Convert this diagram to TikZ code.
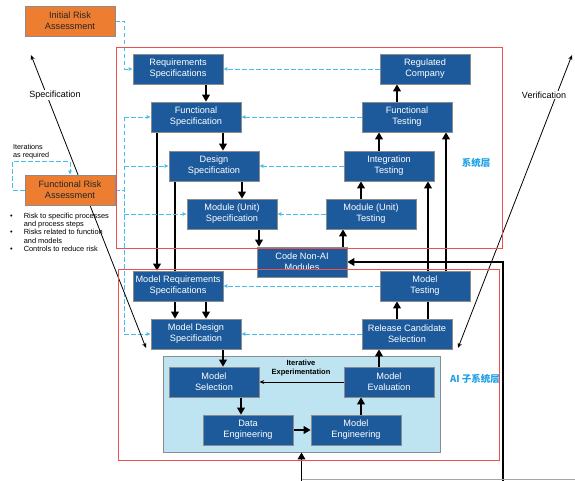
\documentclass[tikz,border=0pt]{standalone}
\usepackage{fontspec}
\setmainfont{Liberation Sans}
\newfontfamily\cjk{Noto Sans CJK SC}
\usetikzlibrary{arrows.meta,calc}
\definecolor{boxblue}{RGB}{28,90,155}
\definecolor{boxedge}{RGB}{140,140,140}
\definecolor{riskorange}{RGB}{237,125,49}
\definecolor{lbfill}{RGB}{190,227,241}
\definecolor{redline}{RGB}{238,80,80}
\definecolor{dashcyan}{RGB}{70,190,235}
\definecolor{cjkblue}{RGB}{30,160,230}
\pgfdeclarelayer{bg}
\pgfdeclarelayer{lines}
\pgfdeclarelayer{fg}
\pgfsetlayers{bg,lines,main,fg}
\begin{document}
\begin{tikzpicture}[x=1pt,y=-1pt,
  blk/.style={draw=boxedge, line width=0.6pt, fill=boxblue, text=white, minimum width=90pt, minimum height=30pt, inner sep=0pt, align=center, font=\fontsize{9.2}{10.8}\selectfont},
  risk/.style={blk, fill=riskorange, text=black!85},
  big/.style={line width=1.8pt, -{Triangle[width=7.5pt,length=7pt]}},
  bigline/.style={line width=1.8pt},
  cdash/.style={draw=dashcyan, line width=0.8pt, dash pattern=on 4.5pt off 2.5pt},
  cdashA/.style={cdash, -{Latex[length=4pt,width=4pt]}},
  longarr/.style={line width=0.8pt, {Stealth[length=5pt,width=4pt]}-{Stealth[length=5pt,width=4pt]}},
  smallarr/.style={line width=0.8pt, -{Stealth[length=5pt,width=4pt]}},
  redbox/.style={draw=redline, line width=1pt, inner sep=0pt},
  lbl/.style={font=\fontsize{9}{10}\selectfont, fill=white, inner sep=1pt}
]
\useasboundingbox (0,0) rectangle (575,481);

% boxes
\node[risk] (ira) at (70,21) {Initial Risk\\Assessment};
\node[risk] (fra) at (70,190) {Functional Risk\\Assessment};
\node[blk] (req) at (178,69) {Requirements\\Specifications};
\node[blk] (fs) at (196,117) {Functional\\Specification};
\node[blk] (ds) at (214,166) {Design\\Specification};
\node[blk] (ms) at (232,214) {Module (Unit)\\Specification};
\node[blk] (reg) at (425,69) {Regulated\\Company};
\node[blk] (ft) at (407,117) {Functional\\Testing};
\node[blk] (it) at (389,166) {Integration\\Testing};
\node[blk] (mt) at (371,214) {Module (Unit)\\Testing};
\node[blk] (code) at (302,262) {Code Non-AI\\Modules};
\node[blk] (mrs) at (178,286) {Model Requirements\\Specifications};
\node[blk] (mds) at (196,334) {Model Design\\Specification};
\node[blk] (mtest) at (425,286) {Model\\Testing};
\node[blk] (rcs) at (407,334) {Release Candidate\\Selection};
\node[blk] (msel) at (214,382) {Model\\Selection};
\node[blk] (mev) at (389,382) {Model\\Evaluation};
\node[blk] (de) at (248,430) {Data\\Engineering};
\node[blk] (me) at (356,430) {Model\\Engineering};

\begin{pgfonlayer}{bg}
\node[draw=boxedge, fill=lbfill, line width=0.8pt, minimum width=277pt, minimum height=96pt, inner sep=0pt] (lbox) at (301.5,404) {};
\end{pgfonlayer}

\begin{pgfonlayer}{fg}
\node[redbox, minimum width=386pt, minimum height=200pt] (sysbox) at (309,148) {};
\node[redbox, minimum width=381pt, minimum height=191pt] (aibox) at (308.5,364.5) {};
\end{pgfonlayer}

% labels
\node[font=\cjk\bfseries\fontsize{9.5}{11}\selectfont, text=cjkblue] (syslbl) at (476,163) {系统层};
\node[font=\cjk\bfseries\fontsize{9.5}{11}\selectfont, text=cjkblue] (ailbl) at (475,379) {AI 子系统层};
\node[lbl] (spec) at (55,95) {Specification};
\node[lbl] (verif) at (544,95) {Verification};
\node[font=\fontsize{7.2}{8.2}\selectfont, align=left, anchor=north west, inner sep=0pt] (iter) at (13,144) {Iterations\\as required};
\node[font=\bfseries\fontsize{7.5}{9.5}\selectfont, align=center, inner sep=0pt] (iterexp) at (301,368) {Iterative\\Experimentation};
\node[font=\fontsize{7.4}{8.6}\selectfont, anchor=north west, inner sep=0pt] (bul) at (10,212) {%
  \renewcommand{\arraystretch}{0.98}%
  \begin{tabular}{@{}l@{\hspace{11pt}}l@{}}
  \textbullet & Risk to specific processes\\
              & and process steps\\
  \textbullet & Risks related to function\\
              & and models\\
  \textbullet & Controls to reduce risk
  \end{tabular}};

\begin{pgfonlayer}{lines}
% V left side
\draw[big] ([xshift=28pt]req.south) -- ([xshift=10pt]fs.north);
\draw[big] ([xshift=27pt]fs.south) -- ([xshift=9pt]ds.north);
\draw[big] ([xshift=28pt]ds.south) -- ([xshift=10pt]ms.north);
\draw[big] ([xshift=27pt]ms.south) -- ([xshift=-43pt]code.north);
% V right side
\draw[big] ([xshift=41pt]code.north) -- ([xshift=-28pt]mt.south);
\draw[big] ([xshift=-10pt]mt.north) -- ([xshift=-28pt]it.south);
\draw[big] ([xshift=-10pt]it.north) -- ([xshift=-28pt]ft.south);
\draw[big] ([xshift=-10pt]ft.north) -- ([xshift=-28pt]reg.south);
% to AI subsystem
\draw[big] ([xshift=-39pt]fs.south) -- ([xshift=-21pt]mrs.north);
\draw[bigline] ([xshift=-39pt]ds.south) -- ([xshift=-3pt]mrs.north);
\draw[big] ([xshift=-3pt]mrs.south) -- ([xshift=-21pt]mds.north);
\draw[big] ([xshift=28pt]mrs.south) -- ([xshift=10pt]mds.north);
\draw[big] ([xshift=27pt]mds.south) -- ([xshift=9pt]msel.north);
\draw[big] ([xshift=27pt]msel.south) -- ([xshift=-7pt]de.north);
\draw[big] (de.east) -- (me.west);
\draw[big] ([xshift=5pt]me.north) -- ([xshift=-28pt]mev.south);
\draw[big] ([xshift=-10pt]mev.north) -- ([xshift=-28pt]rcs.south);
\draw[big] ([xshift=-10pt]rcs.north) -- ([xshift=-28pt]mtest.south);
\draw[big] ([xshift=21pt]rcs.north) -- ([xshift=39pt]it.south);
\draw[big] ([xshift=21pt]mtest.north) -- ([xshift=39pt]ft.south);
\draw[smallarr] (mev.west) -- (msel.east);
% bottom loop
\coordinate (bl) at (301.5,481);
\coordinate (br) at (503,481);
\draw[big] (bl) -- (lbox.south);
\draw[big] (br) |- (code.east);
\coordinate (gl) at (301.5,479.5);
\coordinate (gr) at (575,479.5);
\draw[black!35, line width=0.6pt] (gl) -- (gr);
% dashed links
\draw[cdashA] (ira.east) -- ([xshift=9pt]ira.east) |- (req.west);
\draw[cdashA] (reg.west) -- (req.east);
\draw[cdashA] (ft.west) -- (fs.east);
\draw[cdashA] (it.west) -- (ds.east);
\draw[cdashA] (mt.west) -- (ms.east);
\draw[cdashA] (mtest.west) -- (mrs.east);
\draw[cdashA] (rcs.west) -- (mds.east);
\coordinate (sp) at ([xshift=9pt]fra.east);
\draw[cdash] (fra.east) -- (sp);
\draw[cdash] (sp |- fs.west) -- (sp |- mds.west);
\draw[cdashA] (sp |- fs.west) -- (fs.west);
\draw[cdashA] (sp |- ds.west) -- (ds.west);
\draw[cdashA] (sp |- ms.west) -- (ms.west);
\draw[cdashA] (sp |- mds.west) -- (mds.west);
\draw[cdashA] (fra.west) -- ([xshift=-12pt]fra.west) |- ([yshift=13pt]fra.north) -- (fra.north);
% specification / verification
\coordinate (specT) at (31,55);
\coordinate (specB) at (146,348);
\draw[longarr] (specB) -- (specT);
\coordinate (verB) at (458,348);
\coordinate (verT) at (572,55);
\draw[longarr] (verB) -- (verT);
\end{pgfonlayer}
\end{tikzpicture}
\end{document}
